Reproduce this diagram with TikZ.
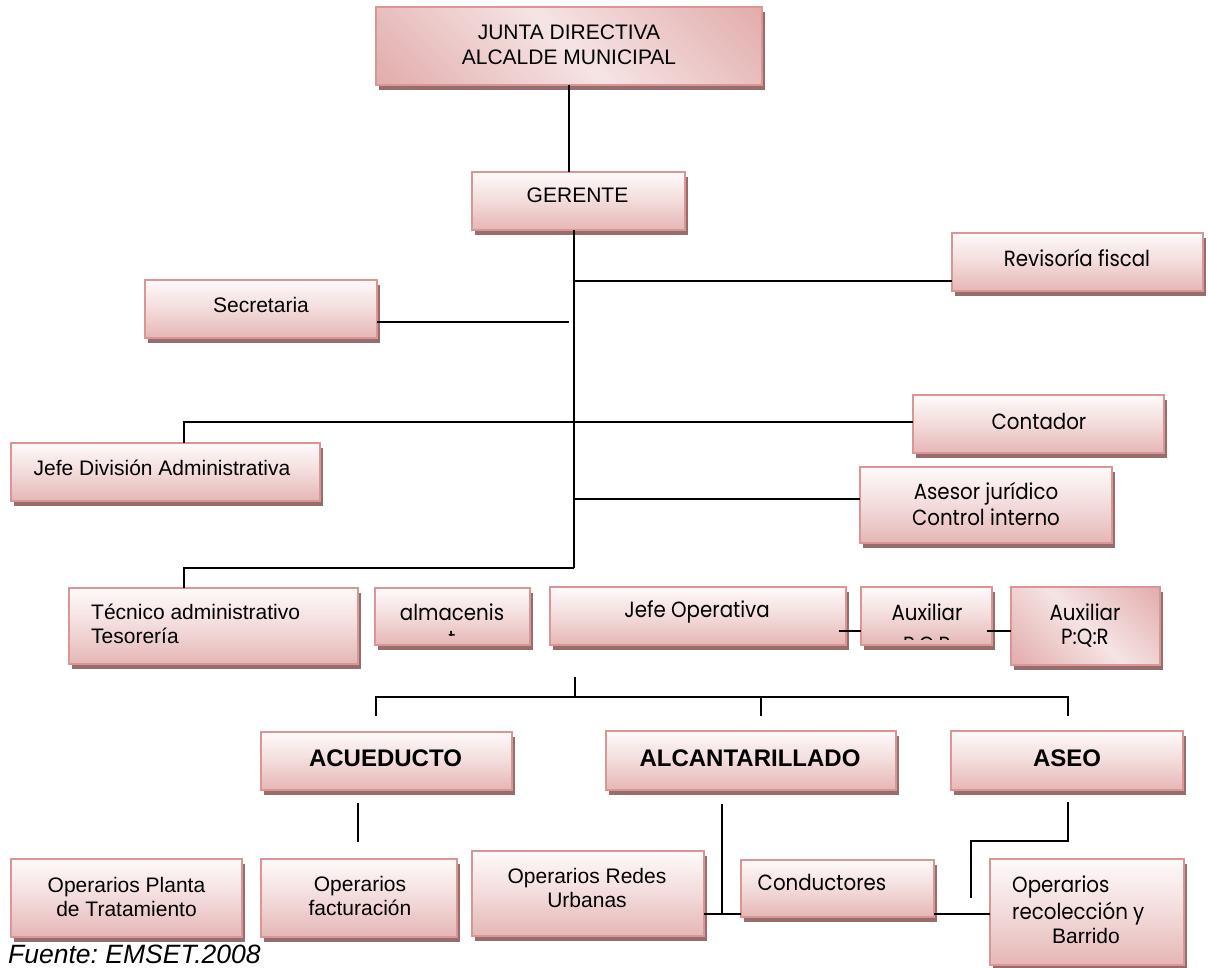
\documentclass[tikz,border=0pt]{standalone}
\usepackage{fontspec}
\setmainfont{Liberation Sans}
\newfontfamily\gothic[FakeStretch=0.9]{Poppins}
\usetikzlibrary{shadows}
\frenchspacing
\definecolor{bord}{RGB}{217,150,148}
\definecolor{lite}{RGB}{254,250,250}
\definecolor{dark}{RGB}{229,182,181}
\definecolor{diagdk}{RGB}{218,148,148}
\definecolor{diaglt}{RGB}{246,228,228}
\definecolor{shad}{RGB}{150,108,108}
\pgfdeclarehorizontalshading{diagsh}{100bp}{color(0bp)=(diagdk); color(50bp)=(diaglt); color(100bp)=(diagdk)}
\newcommand\fA{\fontsize{21}{24}\selectfont}
\newcommand\fB{\fontsize{24}{28}\selectfont\bfseries}
\newcommand\fG{\gothic\fontsize{22}{24}\selectfont}
\tikzset{
  sh/.style={drop shadow={shadow xshift=3pt, shadow yshift=-5pt, fill=shad, opacity=1}},
  box/.style={sh, draw=bord, line width=2.5pt, top color=lite, bottom color=dark, middle color=lite!55!dark, inner sep=0pt, outer sep=0pt},
  dbox/.style={sh, draw=bord, line width=2.5pt, shading=diagsh, shading angle=45, inner sep=0pt, outer sep=0pt},
  conn/.style={line width=2pt, black},
  txt/.style={font=\fA, anchor=base, inner sep=0pt},
  btxt/.style={font=\fB, anchor=base, inner sep=0pt},
  gtxt/.style={font=\fG, anchor=base, inner sep=0pt},
}
\begin{document}
\begin{tikzpicture}[x=1pt,y=-1pt]
\fill[white] (0,0) rectangle (1208,967);
\useasboundingbox (0,0) rectangle (1208,967);

% boxes
\node[dbox, minimum width=386pt, minimum height=78pt] (junta) at (569,46) {};
\node[box, minimum width=213pt, minimum height=58pt] (gerente) at (578.5,201) {};
\node[box, minimum width=232pt, minimum height=58pt] (secretaria) at (261,309) {};
\node[box, minimum width=251pt, minimum height=58pt] (revisoria) at (1077.5,262) {};
\node[box, minimum width=251pt, minimum height=58pt] (contador) at (1038.5,424) {};
\node[box, minimum width=309pt, minimum height=58pt] (jefediv) at (165.5,472) {};
\node[box, minimum width=252pt, minimum height=76pt] (asesor) at (986,505) {};
\node[box, minimum width=289pt, minimum height=76pt] (tecnico) at (213.5,626) {};
\node[box, minimum width=155pt, minimum height=57pt] (almacen) at (452.5,616.5) {};
\node[box, minimum width=296pt, minimum height=58pt] (jefeop) at (698,616) {};
\node[box, minimum width=131pt, minimum height=58pt] (aux1) at (926.5,616) {};
\node[dbox, minimum width=149pt, minimum height=78pt] (aux2) at (1085.5,626) {};
\node[box, minimum width=251pt, minimum height=58pt] (acueducto) at (386.5,761) {};
\node[box, minimum width=290pt, minimum height=59pt] (alcantarillado) at (751,760.5) {};
\node[box, minimum width=232pt, minimum height=59pt] (aseo) at (1067,760.5) {};
\node[box, minimum width=231pt, minimum height=78pt] (planta) at (126.5,898) {};
\node[box, minimum width=196pt, minimum height=78pt] (facturacion) at (359,898) {};
\node[box, minimum width=232pt, minimum height=85pt] (redes) at (588,893.5) {};
\node[box, minimum width=193pt, minimum height=57pt] (conductores) at (837.5,888.5) {};
\node[box, minimum width=194pt, minimum height=106pt] (recoleccion) at (1087,912) {};

% texts
\node[txt] (junta-t1) at (569,39) {JUNTA DIRECTIVA};
\node[txt] (junta-t2) at (569,64) {ALCALDE MUNICIPAL};
\node[txt] (gerente-t) at (577.5,202) {GERENTE};
\node[txt] (secretaria-t) at (261,312) {Secretaria};
\node[gtxt] (revisoria-t) at (1077,266) {Revisoría fiscal};
\node[gtxt] (contador-t) at (1039,429) {Contador};
\node[txt] (jefediv-t) at (162,475) {Jefe División Administrativa};
\node[gtxt] (asesor-t1) at (986,499) {Asesor jurídico};
\node[gtxt] (asesor-t2) at (986,525) {Control interno};
\node[txt, anchor=base west] (tecnico-t1) at (91,619) {Técnico administrativo};
\node[txt, anchor=base west] (tecnico-t2) at (91,643) {Tesorería};
\node[gtxt] (almacen-t) at (452,620) {almacenis};
\begin{scope}
  \clip (376,590) rectangle (529,635);
  \node[gtxt] (almacen-t2) at (452,646) {t};
\end{scope}
\node[gtxt] (jefeop-t) at (697,617) {Jefe Operativa};
\node[gtxt] (aux1-t) at (927,620) {Auxiliar};
\begin{scope}
  \clip (862,590) rectangle (991,639);
  \node[gtxt] (aux1-t2) at (927,652) {P:Q:R};
\end{scope}
\node[gtxt] (aux2-t1) at (1085,620) {Auxiliar};
\node[gtxt] (aux2-t2) at (1085,644) {P:Q:R};
\node[btxt] (acueducto-t) at (385.5,766) {ACUEDUCTO};
\node[btxt] (alcantarillado-t) at (750,766) {ALCANTARILLADO};
\node[btxt] (aseo-t) at (1067,766) {ASEO};
\node[txt] (planta-t1) at (126.5,892) {Operarios Planta};
\node[txt] (planta-t2) at (126.5,916) {de Tratamiento};
\node[txt] (facturacion-t1) at (360,891) {Operarios};
\node[txt] (facturacion-t2) at (360,915) {facturación};
\node[txt] (redes-t1) at (587,883) {Operarios Redes};
\node[txt] (redes-t2) at (587,907) {Urbanas};
\node[gtxt] (conductores-t) at (822,890) {Conductores};
\node[gtxt, anchor=base west] (recoleccion-t1) at (1012,892) {Operarios};
\node[gtxt, anchor=base west] (recoleccion-t2) at (1012,919) {recolección y};
\node[txt] (recoleccion-t3) at (1086,943) {Barrido};
\node[font=\fontsize{26.5}{30}\selectfont\itshape, anchor=base west, inner sep=0pt] (fuente) at (8,963) {Fuente: EMSET.2008};

% connectors
\coordinate (tr1) at (574,568);
\coordinate (rv) at (574,281);
\coordinate (sc) at (569,322);
\coordinate (jd) at (184,422);
\coordinate (as) at (574,499);
\coordinate (ax) at (839,631);
\coordinate (ax2) at (987,631);
\coordinate (op0) at (575,677);
\coordinate (op1) at (575,697);
\coordinate (blD) at (376,716);
\coordinate (bmD) at (761,716);
\coordinate (brD) at (1068,716);
\coordinate (ac0) at (358,803);
\coordinate (ac1) at (358,842);
\coordinate (al0) at (722,804);
\coordinate (al1) at (722,914);
\coordinate (ase0) at (1068,802);
\coordinate (ase1) at (1068,841);
\coordinate (ase2) at (971,898);

\draw[conn] (junta.south) -- (junta.south |- gerente.north);
\draw[conn] (gerente.south -| tr1) -- (tr1);
\draw[conn] (rv) -- (rv -| revisoria.west);
\draw[conn] (sc -| secretaria.east) -- (sc);
\draw[conn] (jd |- jefediv.north) -- (jd) -- (jd -| contador.west);
\draw[conn] (as) -- (as -| asesor.west);
\draw[conn] (tr1) -- (tr1 -| jd) -- (jd |- tecnico.north);
\draw[conn] (ax) -- (ax -| aux1.west);
\draw[conn] (ax2) -- (ax2 -| aux2.west);
\draw[conn] (op0) -- (op1);
\draw[conn] (blD) -- (blD |- op1) -- (brD |- op1) -- (brD);
\draw[conn] (bmD |- op1) -- (bmD);
\draw[conn] (ac0) -- (ac1);
\draw[conn] (al0) -- (al1);
\draw[conn] (al1 -| redes.east) -- (al1 -| conductores.west);
\draw[conn] (al1 -| conductores.east) -- (al1 -| recoleccion.west);
\draw[conn] (ase0) -- (ase1) -- (ase1 -| ase2) -- (ase2);
\end{tikzpicture}
\end{document}
